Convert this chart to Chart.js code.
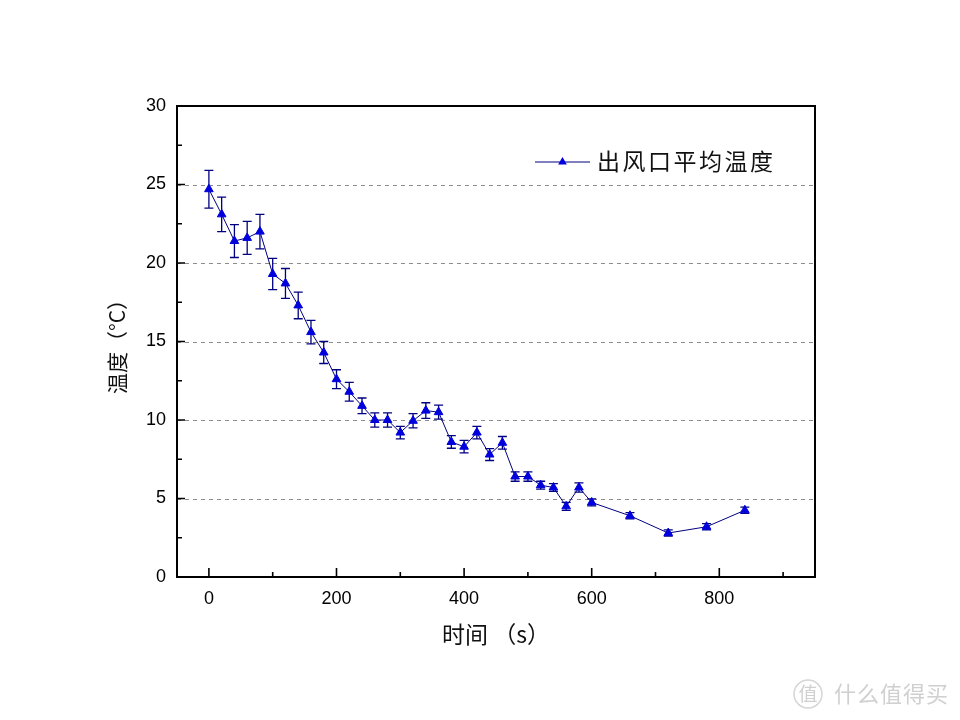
<!DOCTYPE html>
<html><head><meta charset="utf-8">
<script src="https://cdn.jsdelivr.net/npm/chart.js@4"></script>
<style>html,body{margin:0;padding:0;background:#fff;} canvas{display:block;}</style>
</head><body>
<canvas id="c" width="960" height="720"></canvas>
<script>
const timeS = [0,20,40,60,80,100,120,140,160,180,200,220,240,260,280,300,320,340,360,380,400,420,440,460,480,500,520,540,560,580,600,660,720,780,840];
const avgTemp = [24.7,23.1,21.4,21.6,22.0,19.3,18.7,17.3,15.6,14.3,12.6,11.8,10.9,10.0,10.0,9.2,9.95,10.6,10.5,8.6,8.3,9.2,7.8,8.55,6.4,6.4,5.85,5.7,4.5,5.7,4.75,3.9,2.8,3.2,4.25];
const tempErr = [1.2,1.1,1.05,1.05,1.1,1.0,0.95,0.85,0.75,0.7,0.6,0.6,0.5,0.45,0.45,0.4,0.45,0.5,0.45,0.4,0.4,0.4,0.38,0.4,0.3,0.3,0.25,0.25,0.25,0.3,0.22,0.2,0.2,0.2,0.2];
const xTicks = [0,200,400,600,800];
const xMinorTicks = [100,300,500,700,900];
const yTicks = [0,5,10,15,20,25,30];
const yMinorTicks = [2.5,7.5,12.5,17.5,22.5,27.5];
const gridValues = [5,10,15,20,25];
const seriesName = '出风口平均温度';
const xTitle = '时间 （s）';
const yTitle = '温度（°C）';
const watermarkText = '什么值得买';
const watermarkLogo = '值';

const CJK = "'Noto Sans CJK SC', 'Noto Sans', sans-serif";
const LAT = "'Liberation Sans', Arial, sans-serif";

const deco = {
  id: 'deco',
  beforeDatasetsDraw(chart) {
    const {ctx, chartArea: a, scales: {x, y}} = chart;
    ctx.save();
    ctx.strokeStyle = '#8c8c8c'; ctx.lineWidth = 1; ctx.setLineDash([4, 4]);
    gridValues.forEach(v => {
      const py = Math.round(y.getPixelForValue(v)) + 0.5;
      ctx.beginPath(); ctx.moveTo(a.left, py); ctx.lineTo(a.right, py); ctx.stroke();
    });
    ctx.setLineDash([]);
    ctx.strokeStyle = '#000080'; ctx.lineWidth = 1.3;
    timeS.forEach((t, i) => {
      const px = x.getPixelForValue(t);
      const y1 = y.getPixelForValue(avgTemp[i] + tempErr[i]);
      const y2 = y.getPixelForValue(avgTemp[i] - tempErr[i]);
      ctx.beginPath();
      ctx.moveTo(px, y1); ctx.lineTo(px, y2);
      ctx.moveTo(px - 4.5, y1); ctx.lineTo(px + 4.5, y1);
      ctx.moveTo(px - 4.5, y2); ctx.lineTo(px + 4.5, y2);
      ctx.stroke();
    });
    ctx.restore();
  },
  afterDraw(chart) {
    const {ctx, chartArea: a, scales: {x, y}} = chart;
    ctx.save();
    // frame
    ctx.strokeStyle = '#000'; ctx.lineWidth = 2;
    ctx.strokeRect(a.left, a.top, a.right - a.left, a.bottom - a.top);
    // inner ticks
    ctx.lineWidth = 1.6;
    ctx.beginPath();
    yTicks.forEach(v => { const py = y.getPixelForValue(v); ctx.moveTo(a.left, py); ctx.lineTo(a.left + 8, py); });
    yMinorTicks.forEach(v => { const py = y.getPixelForValue(v); ctx.moveTo(a.left, py); ctx.lineTo(a.left + 5, py); });
    xTicks.forEach(v => { const px = x.getPixelForValue(v); ctx.moveTo(px, a.bottom); ctx.lineTo(px, a.bottom - 9); });
    xMinorTicks.forEach(v => { const px = x.getPixelForValue(v); ctx.moveTo(px, a.bottom); ctx.lineTo(px, a.bottom - 5); });
    ctx.stroke();
    // legend
    const ly = 162;
    ctx.strokeStyle = '#000080'; ctx.lineWidth = 1.2;
    ctx.beginPath(); ctx.moveTo(535, ly); ctx.lineTo(590, ly); ctx.stroke();
    ctx.fillStyle = '#0000DD';
    ctx.beginPath();
    const r = 5, s = r * Math.sqrt(3);
    ctx.moveTo(562.5, ly - r); ctx.lineTo(562.5 + s / 2, ly + r / 2); ctx.lineTo(562.5 - s / 2, ly + r / 2); ctx.closePath();
    ctx.fill();
    ctx.fillStyle = '#111';
    ctx.font = '23px ' + CJK;
    ctx.textBaseline = 'middle'; ctx.textAlign = 'left';
    try { ctx.letterSpacing = '2.5px'; } catch (e) {}
    ctx.fillText(seriesName, 597, ly - 1);
    try { ctx.letterSpacing = '0px'; } catch (e) {}
    // watermark
    ctx.strokeStyle = '#d6d6d6'; ctx.lineWidth = 1.5;
    ctx.beginPath(); ctx.arc(808, 694, 14, 0, Math.PI * 2); ctx.stroke();
    ctx.fillStyle = '#d0d0d0';
    ctx.font = '19px ' + CJK;
    ctx.textAlign = 'center';
    ctx.fillText(watermarkLogo, 808, 694);
    ctx.textAlign = 'left';
    ctx.font = '22px ' + CJK;
    try { ctx.letterSpacing = '1px'; } catch (e) {}
    ctx.fillText(watermarkText, 834, 694);
    ctx.restore();
  }
};

new Chart(document.getElementById('c'), {
  type: 'line',
  data: {
    datasets: [{
      label: seriesName,
      data: timeS.map((t, i) => ({x: t, y: avgTemp[i]})),
      borderColor: '#000080',
      borderWidth: 1,
      backgroundColor: '#0000DD',
      pointStyle: 'triangle',
      pointRadius: 5,
      pointBackgroundColor: '#0000DD',
      pointBorderColor: '#0000DD',
      pointBorderWidth: 1,
      tension: 0,
      fill: false
    }]
  },
  options: {
    responsive: false,
    animation: false,
    devicePixelRatio: 1,
    layout: {padding: {left: 0, top: 106, right: 145, bottom: 0}},
    plugins: {legend: {display: false}, tooltip: {enabled: false}},
    scales: {
      x: {
        type: 'linear', min: -50, max: 950,
        afterBuildTicks: s => { s.ticks = xTicks.map(v => ({value: v})); },
        afterFit: s => { s.height = 143; },
        grid: {display: false, drawTicks: false}, border: {display: false},
        ticks: {color: '#000', padding: 11, font: {family: LAT, size: 18}, maxRotation: 0},
        title: {display: true, text: xTitle, color: '#111', font: {family: CJK, size: 23}, padding: {top: 0, bottom: 72}}
      },
      y: {
        type: 'linear', min: 0, max: 30,
        afterBuildTicks: s => { s.ticks = yTicks.map(v => ({value: v})); },
        afterFit: s => { s.width = 177; },
        grid: {display: false, drawTicks: false}, border: {display: false},
        ticks: {color: '#000', padding: 11, font: {family: LAT, size: 18}},
        title: {display: true, text: yTitle, color: '#111', font: {family: CJK, size: 21}, padding: {top: 104, bottom: 0}}
      }
    }
  },
  plugins: [deco]
});
</script>
</body></html>
